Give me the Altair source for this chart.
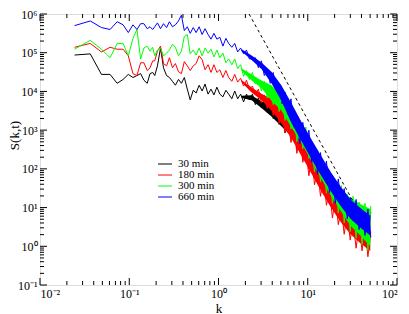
import altair as alt
import pandas as pd

NAMES = ["30 min", "180 min", "300 min", "660 min"]
COLORS = ["#000000", "#ff0000", "#00ff00", "#0000ff"]

K = [0.0244, 0.0366, 0.0488, 0.061, 0.0732, 0.0854, 0.0976, 0.110, 0.122, 0.134, 0.146, 0.159, 0.171, 0.183,
     0.193, 0.207, 0.224, 0.242, 0.262, 0.282, 0.305, 0.329, 0.356, 0.384, 0.414, 0.447, 0.482, 0.521, 0.562,
     0.607, 0.655, 0.707, 0.764, 0.824, 0.889, 0.959, 1.035, 1.12, 1.21, 1.30, 1.41, 1.52, 1.64, 1.77, 1.91,
     2.06, 2.22, 2.40, 2.59, 2.80, 3.02, 3.26, 3.52, 3.80, 4.10, 4.43, 4.78, 5.15, 5.57, 6.01, 6.49, 7.00,
     7.55, 8.15, 8.81, 9.51, 10.3, 11.1, 11.9, 12.9, 13.9, 15.0, 16.2, 17.5, 18.9, 20.4, 22.0, 23.8, 25.6,
     27.7, 29.9, 32.2, 34.8, 37.6, 40.6, 43.8, 47.2, 50.9]

# log10 S(k,t)
LOG_S_30 = [4.94, 4.97, 4.44, 4.44, 4.21, 4.31, 4.44, 4.36, 4.41, 4.46, 4.29, 4.21, 4.46, 4.49,
            4.41, 4.66, 5.12, 4.61, 4.41, 4.36, 4.26, 4.16, 4.31, 4.21, 4.36, 4.06, 3.78, 4.03, 3.96, 4.16,
            4.01, 4.19, 3.93, 4.06, 3.91, 4.11, 3.93, 3.86, 4.03, 3.93, 3.81, 4.01, 3.81, 3.93, 3.73, 3.93,
            3.78, 3.93, 3.66, 3.83,
            3.58, 3.76, 3.46, 3.68, 3.30, 3.56, 3.15, 3.41, 2.93, 3.23,
            2.80, 3.15, 2.52, 2.98, 2.27, 2.65, 2.00, 2.50, 1.79, 2.20, 1.49, 2.02, 1.26, 1.69, 1.09, 1.57,
            0.86, 1.34, 0.71, 1.29, 0.58, 1.11, 0.43, 0.94, 0.38, 0.99, 0.33, 0.89]
LOG_S_180 = [5.14, 5.24, 5.02, 5.14, 5.09, 5.09, 4.92, 4.46, 4.41, 4.74, 4.74, 4.54, 4.61, 4.79,
             4.79, 5.04, 5.17, 4.72, 4.66, 4.87, 4.61, 4.72, 4.51, 4.46, 4.77, 4.66, 4.54, 4.66, 4.72, 4.92,
             4.82, 4.56, 4.69, 4.49, 4.69, 4.49, 4.56, 4.36, 4.54, 4.36, 4.26, 4.44, 4.24, 4.34, 4.14, 4.29,
             4.06, 4.14, 3.91, 4.06,
             3.71, 3.91, 3.56, 3.81, 3.38, 3.66, 3.18, 3.46, 2.93, 3.25,
             2.68, 3.13, 2.40, 2.90, 2.17, 2.55, 1.82, 2.35, 1.59, 1.97, 1.29, 1.82, 1.06, 1.49, 0.73, 1.26,
             0.56, 0.99, 0.31, 0.86, 0.16, 0.66, -0.05, 0.56, -0.12, 0.51, -0.27, 0.38]
LOG_S_300 = [5.09, 5.32, 5.09, 4.87, 5.24, 5.24, 4.92, 5.37, 5.60, 4.84, 5.12, 5.17, 5.04, 5.14,
             4.92, 5.07, 5.12, 4.92, 4.99, 5.07, 5.22, 5.14, 4.92, 5.04, 5.42, 5.47, 4.97, 5.07, 4.94, 5.12,
             4.92, 5.12, 4.99, 5.09, 4.89, 5.07, 4.87, 4.99, 4.74, 4.84, 4.69, 4.84, 4.59, 4.69, 4.39, 4.54,
             4.31, 4.49, 4.19, 4.31,
             4.01, 4.26, 3.83, 4.14, 3.66, 4.01, 3.48, 3.86, 3.25, 3.68,
             3.03, 3.53, 2.70, 3.25, 2.52, 3.08, 2.27, 2.68, 1.92, 2.47, 1.67, 2.17, 1.37, 1.97, 1.11, 1.72,
             0.86, 1.57, 0.61, 1.34, 0.38, 1.29, 0.21, 1.14, 0.05, 1.11, -0.10, 1.04]
LOG_S_660 = [5.70, 5.82, 5.65, 5.60, 5.80, 5.72, 5.52, 5.72, 5.60, 5.75, 5.75, 5.62, 5.67, 5.60,
             5.67, 5.77, 5.62, 5.75, 5.65, 5.80, 5.67, 5.72, 5.82, 5.97, 5.57, 5.67, 5.50, 5.65, 5.52, 5.67,
             5.47, 5.62, 5.47, 5.35, 5.50, 5.35, 5.40, 5.17, 5.37, 5.24, 5.14, 5.24, 5.02, 5.12, 4.97, 5.07,
             4.84, 4.84, 4.87, 4.61,
             4.79, 4.41, 4.56, 4.21, 4.49, 4.06, 4.19, 3.68, 3.98, 3.41,
             3.81, 3.08, 3.38, 2.65, 3.20, 2.62, 3.00, 2.17, 2.57, 1.87, 2.42, 1.77, 2.20, 1.39, 1.84, 1.11,
             1.74, 1.04, 1.49, 0.71, 1.26, 0.66, 1.21, 0.43, 0.91, 0.28, 0.96, 0.23]

# noise envelope at large k (log10 values)
K_BAND = [1.82, 2.35, 3.03, 3.92, 5.06, 6.52, 8.42, 10.9, 14.0, 18.1, 23.4, 30.1, 38.9, 50.2]
HI_30 = [3.89, 3.90, 3.74, 3.66, 3.46, 3.25, 2.90, 2.50, 2.07, 1.64, 1.26, 1.04, 0.89, 0.79]
LO_30 = [3.83, 3.77, 3.57, 3.35, 3.10, 2.85, 2.45, 2.05, 1.62, 1.19, 0.81, 0.58, 0.43, 0.33]
HI_180 = [4.29, 4.10, 3.94, 3.81, 3.53, 3.25, 2.85, 2.40, 1.94, 1.52, 1.14, 0.81, 0.58, 0.38]
LO_180 = [4.23, 3.97, 3.77, 3.51, 3.18, 2.80, 2.35, 1.89, 1.44, 1.01, 0.63, 0.31, 0.08, -0.12]
HI_300 = [4.59, 4.44, 4.28, 4.16, 3.91, 3.58, 3.18, 2.73, 2.27, 1.87, 1.52, 1.24, 1.09, 0.96]
LO_300 = [4.53, 4.28, 4.09, 3.76, 3.51, 3.08, 2.68, 2.22, 1.77, 1.31, 0.91, 0.53, 0.28, 0.00]
HI_660 = [5.09, 4.93, 4.75, 4.51, 4.16, 3.71, 3.23, 2.78, 2.35, 1.92, 1.54, 1.21, 0.99, 0.79]
LO_660 = [5.03, 4.81, 4.58, 4.21, 3.76, 3.20, 2.73, 2.27, 1.84, 1.42, 1.04, 0.71, 0.48, 0.28]

# Porod k^-4 guide
DASH_K = [2.2, 32.5]
DASH_S = [1.0e6, 14.0]

X_TICKS = [0.01, 0.1, 1, 10, 100]
X_LABELS = ["10\u207b\u00b2", "10\u207b\u00b9", "10\u2070", "10\u00b9", "10\u00b2"]
Y_TICKS = [0.1, 1, 10, 100, 1000, 10000, 100000, 1000000]
Y_LABELS = ["10\u207b\u00b9", "10\u2070", "10\u00b9", "10\u00b2", "10\u00b3", "10\u2074", "10\u2075", "10\u2076"]

LINES = [LOG_S_30, LOG_S_180, LOG_S_300, LOG_S_660]
HIS = [HI_30, HI_180, HI_300, HI_660]
LOS = [LO_30, LO_180, LO_300, LO_660]
for s in LINES:
    assert len(s) == len(K), len(s)
for a, b in zip(HIS, LOS):
    assert len(a) == len(b) == len(K_BAND)

W, H = 357, 271
FONT = "Liberation Serif"

xscale = alt.Scale(type="log", domain=[0.01, 100], nice=False)
yscale = alt.Scale(type="log", domain=[0.1, 1e6], nice=False)

xlab = "[" + ",".join("'%s'" % s for s in X_LABELS) + "][round(log(datum.value)/LN10)+2]"
ylab = "[" + ",".join("'%s'" % s for s in Y_LABELS) + "][round(log(datum.value)/LN10)+1]"

xaxis = alt.Axis(values=X_TICKS, labelExpr=xlab, ticks=False, domain=False, grid=False,
                 labelFont=FONT, labelFontSize=12, labelPadding=3, labelColor="black",
                 title="k", titleFont=FONT, titleFontSize=13, titleFontWeight="normal",
                 titleColor="black", titleY=17, titleBaseline="top")
yaxis = alt.Axis(values=Y_TICKS, labelExpr=ylab, ticks=False, domain=False, grid=False,
                 labelFont=FONT, labelFontSize=12, labelPadding=3, labelColor="black",
                 title="S(k,t)", titleFont=FONT, titleFontSize=13, titleFontWeight="normal",
                 titleColor="black", titleX=-19, titleY=121)

X = alt.X("k:Q", scale=xscale, axis=xaxis)
Y = alt.Y("S:Q", scale=yscale, axis=yaxis)

color = alt.Color("series:N", scale=alt.Scale(domain=NAMES, range=COLORS), legend=None)
fill = alt.Fill("band:N", scale=alt.Scale(domain=NAMES, range=COLORS), legend=None)

layers = []
for name, vals, hi, lo in zip(NAMES, LINES, HIS, LOS):
    bdf = pd.DataFrame({"k": K_BAND, "S": [10 ** v for v in hi], "S2": [10 ** v for v in lo],
                        "band": name})
    layers.append(alt.Chart(bdf).mark_area(opacity=1, strokeWidth=0).encode(
        x=X, y=Y, y2="S2:Q", fill=fill))
    ldf = pd.DataFrame({"k": K, "S": [10 ** v for v in vals], "series": name})
    layers.append(alt.Chart(ldf).mark_line(strokeWidth=1).encode(x=X, y=Y, color=color))

ddf = pd.DataFrame({"k": DASH_K, "S": DASH_S})
layers.append(alt.Chart(ddf).mark_line(color="black", strokeWidth=1, strokeDash=[3, 3]).encode(x=X, y=Y))

# inward ticks on all four sides
x_minor = [m * 10 ** e for e in range(-2, 2) for m in range(2, 10)]
y_minor = [m * 10 ** e for e in range(-1, 6) for m in range(2, 10)]
MAJ, MIN = 7, 4
xmaj = pd.DataFrame({"k": X_TICKS})
xmin = pd.DataFrame({"k": x_minor})
ymaj = pd.DataFrame({"S": Y_TICKS})
ymin = pd.DataFrame({"S": y_minor})
tick = dict(color="black", strokeWidth=1)
for df, ln in ((xmaj, MAJ), (xmin, MIN)):
    layers.append(alt.Chart(df).mark_rule(**tick).encode(x=X, y=alt.value(H), y2=alt.value(H - ln)))
    layers.append(alt.Chart(df).mark_rule(**tick).encode(x=X, y=alt.value(0), y2=alt.value(ln)))
for df, ln in ((ymaj, MAJ), (ymin, MIN)):
    layers.append(alt.Chart(df).mark_rule(**tick).encode(y=Y, x=alt.value(0), x2=alt.value(ln)))
    layers.append(alt.Chart(df).mark_rule(**tick).encode(y=Y, x=alt.value(W), x2=alt.value(W - ln)))

# legend drawn inside the plot
LEG_X, LEG_Y, LEG_ROW, LEG_LEN = 118, 150, 11, 14
for i, (name, col) in enumerate(zip(NAMES, COLORS)):
    ydf = pd.DataFrame({"label": [name]})
    yy = LEG_Y + LEG_ROW * i
    layers.append(alt.Chart(ydf).mark_rule(color=col, strokeWidth=1).encode(
        x=alt.value(LEG_X), x2=alt.value(LEG_X + LEG_LEN), y=alt.value(yy)))
    layers.append(alt.Chart(ydf).mark_text(align="left", baseline="middle", font=FONT, fontSize=11,
                                           color="black").encode(
        x=alt.value(LEG_X + LEG_LEN + 6), y=alt.value(yy), text="label:N"))

chart = alt.layer(*layers).properties(
    width=W, height=H,
    autosize=alt.AutoSizeParams(type="none"),
    padding={"left": 32, "top": 6, "right": 4, "bottom": 32},
).configure_view(stroke="black", strokeWidth=1.2).configure(background="white")

chart.save("out.html", embed_options={"renderer": "svg", "actions": False})
